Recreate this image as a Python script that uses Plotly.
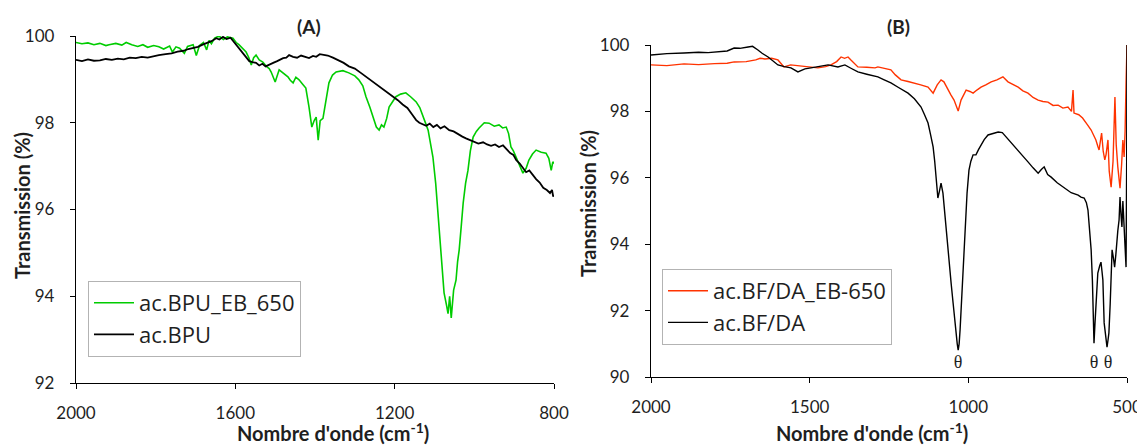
import plotly.graph_objects as go

# ---------------- Panel A data ----------------
a_bpu_eb_wn = [2000, 1985, 1970, 1955, 1940, 1925, 1917, 1900, 1885, 1874, 1860, 1845, 1832, 1820, 1805, 1792,
               1780, 1765, 1758, 1749, 1740, 1728, 1720, 1706, 1698, 1690, 1680, 1672, 1666, 1660, 1652, 1641,
               1630, 1620, 1606, 1598, 1591, 1582, 1573, 1566, 1560, 1554, 1548, 1540, 1531, 1522, 1515, 1510,
               1500, 1490, 1480, 1468, 1462, 1455, 1448, 1440, 1432, 1423, 1415, 1408, 1402, 1397, 1392, 1387,
               1380, 1372, 1365, 1356, 1347, 1330, 1315, 1300, 1290, 1280, 1272, 1262, 1254, 1246, 1239, 1233,
               1227, 1220, 1214, 1205, 1197, 1185, 1172, 1160, 1146, 1137, 1129, 1122, 1116, 1110, 1104, 1097,
               1091, 1083, 1076, 1070, 1066, 1062, 1058, 1052, 1046, 1042, 1038, 1033, 1028, 1022, 1016, 1010,
               1003, 995, 988, 975, 963, 950, 938, 929, 920, 914, 908, 902, 895, 886, 878, 870, 863, 854,
               845, 832, 820, 813, 807, 803, 800]
a_bpu_eb_t = [99.85, 99.82, 99.84, 99.8, 99.83, 99.78, 99.8, 99.83, 99.79, 99.85, 99.8, 99.76, 99.8, 99.74, 99.78, 99.75,
              99.7, 99.77, 99.63, 99.75, 99.72, 99.6, 99.76, 99.8, 99.55, 99.78, 99.85, 99.68, 99.9, 99.82, 99.95, 100.0,
              99.92, 99.98, 99.95, 99.85, 99.8, 99.72, 99.63, 99.5, 99.33, 99.5, 99.56, 99.45, 99.4, 99.3, 99.25, 99.17,
              98.94, 99.22, 99.15, 99.06, 98.98, 98.92, 99.05, 98.99, 98.9, 98.8, 98.36, 97.9, 98.05, 98.13, 97.6, 98.05,
              98.1, 98.5, 98.92, 99.1, 99.17, 99.2, 99.15, 99.08, 98.99, 98.85, 98.6, 98.35, 98.1, 97.9, 97.83, 97.95,
              97.9, 98.1, 98.36, 98.5, 98.6, 98.66, 98.69, 98.6, 98.48, 98.35, 98.13, 97.98, 97.83, 97.55, 97.21, 96.6,
              95.92, 95.07, 94.08, 93.8, 93.6, 94.0, 93.5, 94.14, 94.37, 94.8, 95.07, 95.6, 96.15, 96.6, 96.9, 97.35,
              97.67, 97.8, 97.88, 98.0, 97.99, 97.92, 97.95, 97.88, 97.9, 97.75, 97.44, 97.35, 97.21, 97.0, 96.84, 96.95,
              97.14, 97.28, 97.37, 97.32, 97.3, 97.18, 96.9, 97.1, 97.06]

a_bpu_wn = [2000, 1985, 1970, 1955, 1940, 1925, 1910, 1895, 1880, 1865, 1850, 1835, 1820, 1805, 1792, 1775, 1760,
            1745, 1730, 1718, 1706, 1694, 1682, 1670, 1660, 1648, 1640, 1631, 1622, 1612, 1605, 1598, 1590, 1582,
            1573, 1565, 1557, 1548, 1540, 1532, 1524, 1515, 1505, 1495, 1487, 1480, 1472, 1465, 1455, 1445, 1435,
            1425, 1415, 1405, 1397, 1388, 1378, 1368, 1355, 1340, 1328, 1315, 1300, 1285, 1270, 1255, 1240, 1229,
            1218, 1205, 1192, 1180, 1168, 1157, 1146, 1138, 1130, 1121, 1112, 1103, 1094, 1085, 1075, 1063, 1052,
            1042, 1030, 1021, 1010, 1000, 990, 978, 968, 958, 948, 938, 928, 918, 910, 902, 895, 886, 878,
            870, 862, 853, 845, 836, 827, 818, 810, 805, 802, 800]
a_bpu_t = [99.45, 99.42, 99.46, 99.43, 99.44, 99.47, 99.45, 99.48, 99.46, 99.5, 99.49, 99.52, 99.5, 99.54, 99.56, 99.58, 99.6,
           99.64, 99.66, 99.7, 99.72, 99.75, 99.8, 99.84, 99.88, 99.95, 99.92, 99.98, 99.93, 99.96, 99.88, 99.79, 99.7, 99.6,
           99.49, 99.42, 99.4, 99.38, 99.32, 99.36, 99.3, 99.33, 99.38, 99.42, 99.46, 99.49, 99.5, 99.56, 99.52, 99.5, 99.55,
           99.52, 99.49, 99.54, 99.52, 99.58, 99.56, 99.55, 99.5, 99.44, 99.38, 99.3, 99.25, 99.15, 99.05, 98.95, 98.85, 98.76,
           98.7, 98.6, 98.52, 98.42, 98.34, 98.2, 98.06, 98.0, 97.97, 97.93, 97.98, 97.9, 97.95, 97.87, 97.92, 97.83, 97.8,
           97.74, 97.68, 97.64, 97.6, 97.57, 97.52, 97.55, 97.5, 97.47, 97.5, 97.44, 97.48, 97.38, 97.3, 97.26, 97.14, 97.06, 96.95,
           96.86, 96.9, 96.78, 96.7, 96.62, 96.5, 96.45, 96.38, 96.45, 96.3, 96.33]

# ---------------- Panel B data ----------------
b_bfda_eb_wn = [2000, 1950, 1896, 1850, 1800, 1760, 1738, 1700, 1670, 1656, 1641, 1620, 1600, 1581, 1560, 1530,
                1500, 1474, 1450, 1433, 1415, 1401, 1390, 1379, 1370, 1360, 1348, 1320, 1294, 1285, 1263, 1244,
                1230, 1212, 1190, 1171, 1150, 1127, 1111, 1098, 1086, 1077, 1064, 1055, 1045, 1038, 1032, 1023,
                1015, 1007, 995, 985, 972, 960, 945, 928, 910, 891, 875, 860, 843, 828, 812, 796, 780, 765,
                749, 733, 717, 702, 686, 675, 670, 667, 652, 640, 635, 625, 613, 605, 598, 592, 588, 580, 575,
                570, 566, 560, 556, 550, 544, 538, 534, 529, 525, 522, 517, 513, 509, 506, 503, 501, 500]
b_bfda_eb_t = [99.4, 99.38, 99.43, 99.41, 99.44, 99.45, 99.49, 99.5, 99.55, 99.6, 99.58, 99.6, 99.55, 99.34, 99.4, 99.37,
               99.33, 99.31, 99.35, 99.4, 99.5, 99.64, 99.6, 99.64, 99.55, 99.45, 99.34, 99.33, 99.31, 99.34, 99.3, 99.25,
               99.1, 98.95, 98.9, 98.86, 98.8, 98.73, 98.55, 98.8, 98.95, 98.89, 98.64, 98.5, 98.34, 98.15, 98.01, 98.34,
               98.5, 98.64, 98.6, 98.55, 98.65, 98.73, 98.8, 98.89, 98.95, 99.04, 98.89, 98.82, 98.73, 98.62, 98.55, 98.42, 98.34, 98.3,
               98.28, 98.18, 98.19, 98.1, 98.13, 98.0, 98.64, 97.95, 97.9, 97.8, 97.74, 97.6, 97.44, 97.3, 97.14, 96.95, 96.84, 97.35, 96.8,
               96.54, 96.7, 97.14, 96.2, 95.72, 96.5, 98.43, 97.0, 96.33, 95.9, 95.69, 96.4, 97.14, 96.63, 97.4, 98.86, 99.3, 100.0]

b_bfda_wn = [2000, 1950, 1896, 1850, 1820, 1789, 1760, 1738, 1720, 1694, 1680, 1663, 1650, 1631, 1615, 1600, 1580,
             1559, 1537, 1515, 1496, 1470, 1442, 1411, 1389, 1370, 1348, 1320, 1285, 1265, 1244, 1220, 1190, 1170,
             1149, 1138, 1127, 1119, 1111, 1106, 1102, 1098, 1096, 1091, 1086, 1080, 1075, 1070, 1061, 1054, 1048,
             1043, 1039, 1035, 1032, 1029, 1026, 1020, 1013, 1004, 998, 992, 985, 976, 968, 960, 950, 938, 920,
             906, 893, 881, 862, 843, 828, 812, 796, 780, 770, 761, 750, 739, 720, 698, 676, 654, 645, 635, 628,
             623, 618, 613, 609, 607, 604, 601, 598, 592, 586, 582, 579, 576, 572, 567, 563, 560, 557, 553, 550,
             547, 543, 539, 535, 532, 529, 525, 522, 519, 516, 513, 510, 506, 503, 501, 500]
b_bfda_t = [99.7, 99.74, 99.76, 99.78, 99.77, 99.8, 99.82, 99.91, 99.9, 99.94, 99.96, 99.85, 99.75, 99.64, 99.52, 99.4, 99.35,
            99.31, 99.19, 99.28, 99.31, 99.36, 99.4, 99.34, 99.4, 99.3, 99.19, 99.12, 99.04, 98.95, 98.86, 98.72, 98.55, 98.38,
            98.13, 97.9, 97.65, 97.3, 96.93, 96.5, 96.14, 95.7, 95.39, 95.6, 95.84, 95.54, 95.0, 94.34, 93.31, 92.8, 92.23,
            91.7, 91.33, 91.0, 90.81, 91.0, 91.42, 92.53, 94.13, 95.54, 96.23, 96.5, 96.69, 96.69, 96.85, 96.99, 97.15, 97.29, 97.35,
            97.38, 97.36, 97.23, 97.05, 96.84, 96.65, 96.48, 96.3, 96.14, 96.25, 96.33, 96.1, 96.02, 95.85, 95.69, 95.55, 95.48, 95.42, 95.39, 95.25,
            95.03, 94.4, 93.83, 92.9, 92.11, 91.02, 91.6, 92.1, 93.13, 93.35, 93.46, 93.2, 92.92, 91.63, 91.2, 90.9, 91.1, 91.33, 92.2, 93.0,
            93.83, 93.6, 93.31, 93.7, 94.13, 94.4, 94.73, 95.42, 94.9, 94.52, 95.3, 94.73, 94.2, 93.31, 96.5, 100.0]

theta_wn = [1032, 604, 560]
theta_t = [90.42, 90.42, 90.42]

GREEN = "#00cc00"
ORANGE = "#ff3300"
BLACK = "#000000"
TXT = "#1f1f1f"
FONT = "Lato"

fig = go.Figure()
fig.add_trace(go.Scatter(x=a_bpu_eb_wn, y=a_bpu_eb_t, mode="lines", name="ac.BPU_EB_650",
                         line=dict(color=GREEN, width=1.6), xaxis="x", yaxis="y", legend="legend"))
fig.add_trace(go.Scatter(x=a_bpu_wn, y=a_bpu_t, mode="lines", name="ac.BPU",
                         line=dict(color=BLACK, width=1.8), xaxis="x", yaxis="y", legend="legend"))
fig.add_trace(go.Scatter(x=b_bfda_eb_wn, y=b_bfda_eb_t, mode="lines", name="ac.BF/DA_EB-650",
                         line=dict(color=ORANGE, width=1.4), xaxis="x2", yaxis="y2", legend="legend2"))
fig.add_trace(go.Scatter(x=b_bfda_wn, y=b_bfda_t, mode="lines", name="ac.BF/DA",
                         line=dict(color=BLACK, width=1.4), xaxis="x2", yaxis="y2", legend="legend2"))
fig.add_trace(go.Scatter(x=theta_wn, y=theta_t, mode="text", text=["θ", "θ", "θ"],
                         textfont=dict(family="Liberation Serif", size=18, color=TXT),
                         showlegend=False, hoverinfo="skip", xaxis="x2", yaxis="y2"))

# the page body has an 8 px margin: figure is drawn 8 px right/down of the window corner
OFF = 8
W, H = 1145 - OFF, 447 - OFF
def px(x):
    return (x - OFF) / W
def py(y):
    return 1 - (y - OFF) / H

axis_common = dict(showgrid=False, zeroline=False, showline=True, linecolor=BLACK, linewidth=1.3,
                   ticks="outside", ticklen=5, tickwidth=1.3, tickcolor=BLACK, automargin=False,
                   ticklabeloverflow="allow", tickfont=dict(family=FONT, size=17, color=TXT))

leg_common = dict(xanchor="left", yanchor="top", bgcolor="white", bordercolor="#b3b3b3", borderwidth=1,
                  font=dict(family="Open Sans", size=22, color=TXT), itemwidth=40, tracegroupgap=0)

fig.update_layout(
    width=W, height=H, margin=dict(l=0, r=0, t=0, b=0, autoexpand=False),
    paper_bgcolor="white", plot_bgcolor="white",
    xaxis=dict(domain=[px(76), px(554)], range=[2000, 800], tickvals=[2000, 1600, 1200, 800],
               anchor="y", ticklabelstandoff=9, **axis_common),
    yaxis=dict(domain=[py(383), py(36)], range=[92, 100], tickvals=[92, 94, 96, 98, 100],
               anchor="x", ticklabelstandoff=12, **axis_common),
    xaxis2=dict(domain=[px(651), px(1127)], range=[2000, 500], tickvals=[2000, 1500, 1000, 500],
                anchor="y2", ticklabelstandoff=9, **axis_common),
    yaxis2=dict(domain=[py(377), py(45)], range=[90, 100], tickvals=[90, 92, 94, 96, 98, 100],
                anchor="x2", ticklabelstandoff=12, **axis_common),
    legend=dict(x=px(88), y=py(281), **leg_common),
    legend2=dict(x=px(662), y=py(269), **leg_common),
    showlegend=True,
)

def ann(text, x, y, size, angle=0):
    return dict(text=text, x=px(x), y=py(y), xref="paper", yref="paper", showarrow=False,
                xanchor="center", yanchor="middle", textangle=angle,
                font=dict(family=FONT, size=size, color=TXT))

annotations = [
    ann("<b>(A)</b>", 309, 27, 19),
    ann("<b>(B)</b>", 899, 27, 19),
    ann("<b>Transmission (%)</b>", 22, 206, 20, -90),
    ann("<b>Transmission (%)</b>", 588, 204, 20, -90),
    ann("<b>Nombre d'onde (cm<sup>-1</sup>)</b>", 333, 432, 20),
    ann("<b>Nombre d'onde (cm<sup>-1</sup>)</b>", 872, 432, 20),
]
fig.update_layout(annotations=annotations)

fig.write_html("out.html")
